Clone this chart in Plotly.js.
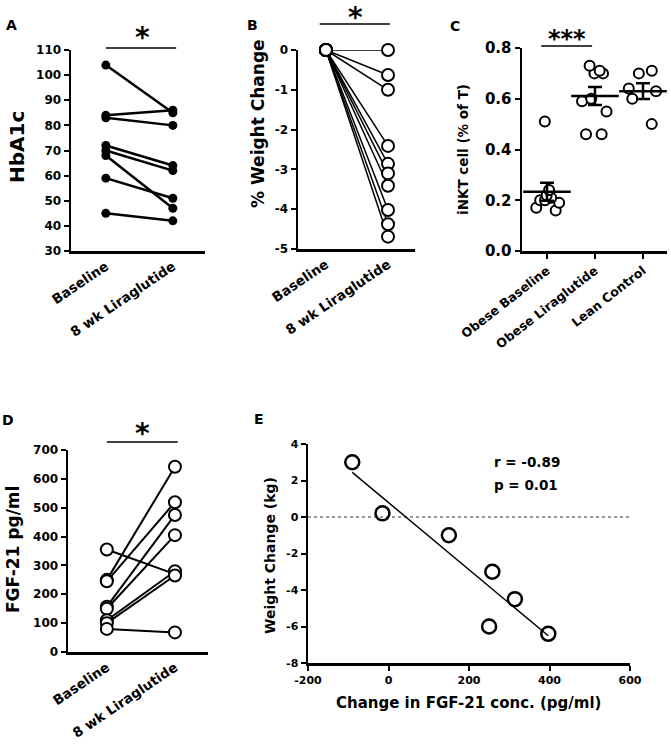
<!DOCTYPE html>
<html>
<head>
<meta charset="utf-8">
<script src="https://cdn.plot.ly/plotly-3.0.1.min.js"></script>
<style>html,body{margin:0;padding:0;background:#fff;}#chart{width:671px;height:747px;}</style>
</head>
<body>
<div id="chart"></div>
<script>
// ---------- DATA ----------
const pairLabels = ['Baseline', '8 wk Liraglutide'];

const hba1cBaseline = [104, 84, 83, 72, 70, 68, 59, 45];
const hba1cPost     = [85, 86, 80, 64, 62, 47, 51, 42];

const weightBaseline = [0, 0, 0, 0, 0, 0, 0, 0, 0, 0];
const weightPost     = [0, -0.63, -1.0, -2.41, -2.86, -3.1, -3.41, -4.02, -4.38, -4.69];

const inktCategories = ['Obese Baseline', 'Obese Liraglutide', 'Lean Control'];
const inktObeseBaseline = [0.51, 0.24, 0.22, 0.21, 0.20, 0.20, 0.17, 0.16, 0.19];
const inktObeseLira     = [0.73, 0.71, 0.70, 0.70, 0.60, 0.59, 0.55, 0.46, 0.46];
const inktLean          = [0.70, 0.71, 0.64, 0.63, 0.60, 0.50];

const fgfBaseline = [355, 250, 245, 157, 150, 110, 100, 80];
const fgfPost     = [270, 642, 519, 475, 405, 280, 265, 68];

const fgfChange    = [-90, -15, 150, 258, 250, 314, 397];
const weightChange = [3, 0.2, -1, -3, -6, -4.5, -6.4];

const weightTicks = [0, -1, -2, -3, -4, -5];
const eYTicks = [4, 2, 0, -2, -4, -6, -8];
const eXTicks = [-200, 0, 200, 400, 600];
const statsText = ['r = -0.89', 'p = 0.01'];

// ---------- HELPERS ----------
const W = 671, H = 747;
const px = x => x / W;
const py = y => 1 - y / H;
const FONT = 'DejaVu Sans';
const bold = (size) => ({family: FONT, size: size, color: '#000', weight: 'bold'});

function segments(base, post) {
  const xs = [], ys = [];
  base.forEach((b, i) => { xs.push(0, 1, null); ys.push(b, post[i], null); });
  return {x: xs, y: ys};
}
function points(base, post) {
  return {x: base.map(() => 0).concat(post.map(() => 1)), y: base.concat(post)};
}
const mean = a => a.reduce((s, v) => s + v, 0) / a.length;
const sem = a => { const m = mean(a); const sd = Math.sqrt(a.reduce((s, v) => s + (v - m) ** 2, 0) / (a.length - 1)); return sd / Math.sqrt(a.length); };
const label = t => t.map(v => String(v));

const axisBase = {
  showline: true, linecolor: '#000', linewidth: 2.5, showgrid: false, zeroline: false,
  ticks: 'outside', ticklen: 5, tickwidth: 2, tickcolor: '#000', fixedrange: true
};

const traces = [];

// Panel A
const sA = segments(hba1cBaseline, hba1cPost), pA = points(hba1cBaseline, hba1cPost);
traces.push({x: sA.x, y: sA.y, xaxis: 'x', yaxis: 'y', mode: 'lines', line: {color: '#000', width: 2.5}, cliponaxis: false});
traces.push({x: pA.x, y: pA.y, xaxis: 'x', yaxis: 'y', mode: 'markers', marker: {color: '#000', size: 9}, cliponaxis: false});

// Panel B
const sB = segments(weightBaseline, weightPost), pB = points(weightBaseline, weightPost);
traces.push({x: sB.x, y: sB.y, xaxis: 'x2', yaxis: 'y2', mode: 'lines', line: {color: '#000', width: 1.5}, cliponaxis: false});
traces.push({x: pB.x, y: pB.y, xaxis: 'x2', yaxis: 'y2', mode: 'markers', marker: {color: '#fff', size: 12, line: {color: '#000', width: 2}}, cliponaxis: false});

// Panel C
const cGroups = [inktObeseBaseline, inktObeseLira, inktLean];
cGroups.forEach((arr, i) => {
  traces.push({
    type: 'box', y: arr, x: arr.map(() => i), xaxis: 'x3', yaxis: 'y3',
    boxpoints: 'all', jitter: 1, pointpos: 0, width: 0.7,
    fillcolor: 'rgba(0,0,0,0)', line: {width: 0, color: 'rgba(0,0,0,0)'},
    marker: {color: '#fff', size: 10, line: {color: '#000', width: 2}}, whiskerwidth: 0
  });
});
traces.push({
  x: [0, 1, 2], y: cGroups.map(mean), xaxis: 'x3', yaxis: 'y3', mode: 'markers',
  marker: {symbol: 'line-ew-open', size: 34, color: '#000', line: {color: '#000', width: 2.5}},
  error_y: {type: 'data', array: cGroups.map(sem), color: '#000', thickness: 2.5, width: 7},
  cliponaxis: false
});

// Panel D
const sD = segments(fgfBaseline, fgfPost), pD = points(fgfBaseline, fgfPost);
traces.push({x: sD.x, y: sD.y, xaxis: 'x4', yaxis: 'y4', mode: 'lines', line: {color: '#000', width: 2}, cliponaxis: false});
traces.push({x: pD.x, y: pD.y, xaxis: 'x4', yaxis: 'y4', mode: 'markers', marker: {color: '#fff', size: 12, line: {color: '#000', width: 2}}, cliponaxis: false});

// Panel E
const eXRange = [eXTicks[0], eXTicks[eXTicks.length - 1]];
traces.push({x: eXRange, y: [0, 0], xaxis: 'x5', yaxis: 'y5', mode: 'lines', line: {color: '#777', width: 1.5, dash: 'dot'}});
const mx = mean(fgfChange), my = mean(weightChange);
let sxy = 0, sxx = 0;
fgfChange.forEach((v, i) => { sxy += (v - mx) * (weightChange[i] - my); sxx += (v - mx) ** 2; });
const slope = sxy / sxx, icpt = my - slope * mx;
const fx = [Math.min(...fgfChange), Math.max(...fgfChange)];
traces.push({x: fx, y: fx.map(v => icpt + slope * v), xaxis: 'x5', yaxis: 'y5', mode: 'lines', line: {color: '#000', width: 1.5}});
traces.push({x: fgfChange, y: weightChange, xaxis: 'x5', yaxis: 'y5', mode: 'markers', marker: {color: 'rgba(0,0,0,0)', size: 14, line: {color: '#000', width: 2.5}}, cliponaxis: false});

// ---------- LAYOUT ----------
const pairX = (extra) => Object.assign({}, axisBase, {
  tickvals: [0, 1], ticktext: pairLabels, ticks: '', tickangle: -34, tickfont: bold(13.5)
}, extra);

const layout = {
  width: W, height: H, margin: {l: 0, r: 0, t: 0, b: 0},
  paper_bgcolor: '#fff', plot_bgcolor: 'rgba(0,0,0,0)',
  showlegend: false, hovermode: false, font: {family: FONT, color: '#000'},
  xaxis: pairX({domain: [px(71), px(205)], range: [-0.52, 1.48], anchor: 'y'}),
  yaxis: Object.assign({}, axisBase, {domain: [py(251), py(50)], range: [30, 110], dtick: 10, anchor: 'x', tickfont: bold(12)}),
  xaxis2: pairX({domain: [px(298), px(415)], range: [-0.45, 1.435], anchor: 'y2'}),
  yaxis2: Object.assign({}, axisBase, {domain: [py(249), py(50)], range: [-5, 0], tickvals: weightTicks, ticktext: label(weightTicks), anchor: 'x2', tickfont: bold(12)}),
  xaxis3: Object.assign({}, axisBase, {domain: [px(522), px(667)], range: [-0.52, 2.5], anchor: 'y3', tickvals: [0, 1, 2], ticktext: inktCategories, tickangle: -38, tickfont: bold(12.5)}),
  yaxis3: Object.assign({}, axisBase, {domain: [py(251), py(48)], range: [0, 0.8], dtick: 0.2, tickformat: '.1f', anchor: 'x3', tickfont: bold(15)}),
  xaxis4: pairX({domain: [px(68), px(208)], range: [-0.57, 1.485], anchor: 'y4'}),
  yaxis4: Object.assign({}, axisBase, {domain: [py(652), py(450)], range: [0, 700], dtick: 100, anchor: 'x4', tickfont: bold(12)}),
  xaxis5: Object.assign({}, axisBase, {domain: [px(308), px(630)], range: eXRange, tickvals: eXTicks, ticktext: label(eXTicks), anchor: 'y5', tickfont: bold(11)}),
  yaxis5: Object.assign({}, axisBase, {domain: [py(663), py(444)], range: [-8, 4], tickvals: eYTicks, ticktext: label(eYTicks), anchor: 'x5', tickfont: bold(11)}),
  shapes: [
    {type: 'line', xref: 'x', yref: 'paper', x0: 0, x1: 1.05, y0: py(48), y1: py(48), line: {color: '#000', width: 1.5}},
    {type: 'line', xref: 'x2', yref: 'paper', x0: -0.1, x1: 1.03, y0: py(24), y1: py(24), line: {color: '#000', width: 1.5}},
    {type: 'line', xref: 'x3', yref: 'paper', x0: -0.12, x1: 0.94, y0: py(46), y1: py(46), line: {color: '#000', width: 1.5}},
    {type: 'line', xref: 'x4', yref: 'paper', x0: 0, x1: 1.04, y0: py(442), y1: py(442), line: {color: '#000', width: 1.5}}
  ],
  annotations: []
};

const ann = (text, x, y, size, extra) => Object.assign({
  text: text, x: px(x), y: py(y), xref: 'paper', yref: 'paper', showarrow: false,
  xanchor: 'center', yanchor: 'middle', font: bold(size)
}, extra || {});

layout.annotations.push(
  ann('A', 11, 25, 14), ann('B', 252, 25, 14), ann('C', 455, 26, 14),
  ann('D', 8, 420, 14), ann('E', 259, 419, 14),
  ann('*', 142, 38, 28), ann('*', 355, 18, 28), ann('***', 567, 39, 24), ann('*', 142, 433, 28),
  ann('HbA1c', 17, 147, 20, {textangle: -90}),
  ann('% Weight Change', 258, 124, 17, {textangle: -90}),
  ann('iNKT cell (% of T)', 463, 150, 13.5, {textangle: -90}),
  ann('FGF-21 pg/ml', 13, 550, 17, {textangle: -90}),
  ann('Weight Change (kg)', 270, 556, 14, {textangle: -90}),
  ann('Change in FGF-21 conc. (pg/ml)', 468, 703, 15),
  ann(statsText[0], 492, 462, 13.5, {xanchor: 'left'}),
  ann(statsText[1], 492, 485, 13.5, {xanchor: 'left'})
);

Plotly.newPlot('chart', traces, layout, {staticPlot: true, displayModeBar: false});
</script>
</body>
</html>
